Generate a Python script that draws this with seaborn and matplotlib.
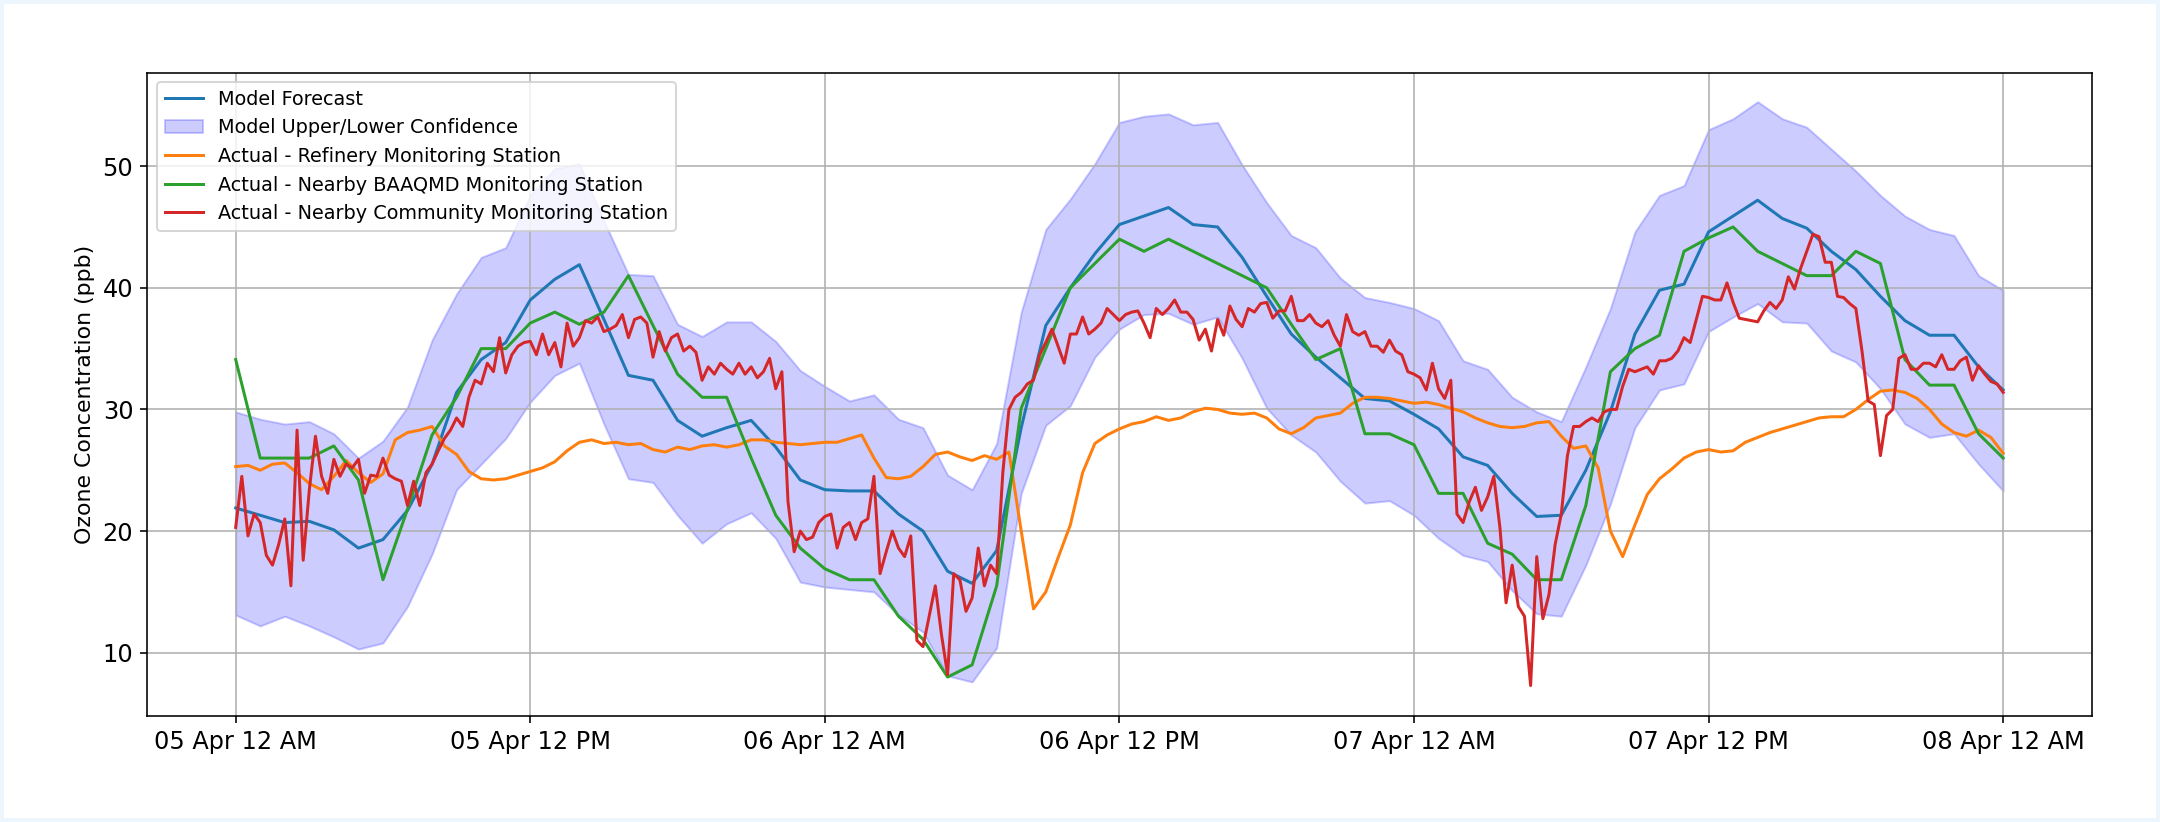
import numpy as np
import pandas as pd
import matplotlib
matplotlib.use("Agg")
import matplotlib.pyplot as plt
import matplotlib.dates as mdates
from matplotlib.patches import Rectangle
import seaborn as sns

start = pd.Timestamp("2023-04-05 00:00")

# hourly model output, 05 Apr 00:00 -> 08 Apr 00:00
model_forecast = [
    21.9, 21.3, 20.7, 20.8, 20.1, 18.6, 19.3, 21.7, 25.5, 31.4, 34.1, 35.5,
    39.0, 40.7, 41.9, 37.4, 32.8, 32.4, 29.1, 27.8, 28.5, 29.1, 26.9, 24.2,
    23.4, 23.3, 23.3, 21.4, 20.0, 16.7, 15.7, 18.4, 28.5, 36.9, 40.0, 42.8,
    45.2, 45.9, 46.6, 45.2, 45.0, 42.5, 39.3, 36.2, 34.3, 32.6, 30.9, 30.7,
    29.6, 28.4, 26.1, 25.4, 23.1, 21.2, 21.3, 25.0, 29.8, 36.2, 39.8, 40.3,
    44.6, 45.9, 47.2, 45.7, 44.9, 43.0, 41.5, 39.3, 37.3, 36.1, 36.1, 33.5,
    31.6,
]
model_upper = [
    29.8, 29.2, 28.8, 29.0, 28.0, 26.0, 27.4, 30.2, 35.7, 39.5, 42.5, 43.3,
    47.6, 49.8, 50.2, 45.5, 41.1, 41.0, 37.0, 36.0, 37.2, 37.2, 35.6, 33.2,
    31.9, 30.7, 31.2, 29.2, 28.5, 24.6, 23.4, 27.2, 38.0, 44.8, 47.3, 50.2,
    53.6, 54.1, 54.3, 53.4, 53.6, 50.1, 47.0, 44.3, 43.3, 40.8, 39.2, 38.8,
    38.3, 37.3, 34.0, 33.3, 31.0, 29.8, 29.0, 33.5, 38.3, 44.6, 47.6, 48.4,
    53.0, 53.9, 55.3, 53.9, 53.2, 51.4, 49.6, 47.6, 45.9, 44.8, 44.3, 41.0,
    39.8,
]
model_lower = [
    13.1, 12.2, 13.0, 12.2, 11.3, 10.3, 10.8, 13.8, 18.1, 23.4, 25.5, 27.6,
    30.6, 32.8, 33.8, 28.8, 24.3, 24.0, 21.3, 19.0, 20.6, 21.5, 19.4, 15.8,
    15.4, 15.2, 15.0, 13.1, 11.7, 8.1, 7.6, 10.4, 23.1, 28.7, 30.3, 34.3,
    36.6, 37.8, 37.9, 37.0, 37.6, 34.2, 30.1, 27.9, 26.5, 24.1, 22.3, 22.5,
    21.3, 19.4, 18.0, 17.5, 15.1, 13.2, 13.0, 17.2, 22.2, 28.5, 31.6, 32.1,
    36.4, 37.6, 38.7, 37.2, 37.1, 34.8, 33.9, 31.7, 28.8, 27.7, 28.0, 25.5,
    23.3,
]

# hourly BAAQMD station
baaqmd = [
    34.1, 26.0, 26.0, 26.0, 27.0, 24.2, 16.0, 21.8, 27.9, 31.0, 35.0, 35.0,
    37.1, 38.0, 37.0, 38.0, 41.0, 36.9, 32.9, 31.0, 31.0, 26.0, 21.3, 18.6,
    16.9, 16.0, 16.0, 13.0, 11.1, 8.0, 9.0, 15.5, 30.1, 35.0, 40.0, 42.0,
    44.0, 43.0, 44.0, 43.0, 42.0, 41.0, 40.0, 37.0, 34.1, 35.0, 28.0, 28.0,
    27.1, 23.1, 23.1, 19.0, 18.1, 16.0, 16.0, 22.1, 33.1, 35.0, 36.1, 43.0,
    44.1, 45.0, 43.0, 42.0, 41.0, 41.0, 43.0, 42.0, 34.1, 32.0, 32.0, 28.0,
    26.0,
]

# refinery station, every 30 min
refinery = [
    25.3, 25.4, 25.0, 25.5, 25.6, 24.8, 23.9, 23.4, 24.5, 25.8, 24.8, 24.0,
    24.7, 27.5, 28.1, 28.3, 28.6, 27.0, 26.3, 24.9, 24.3, 24.2, 24.3, 24.6,
    24.9, 25.2, 25.7, 26.6, 27.3, 27.5, 27.2, 27.3, 27.1, 27.2, 26.7, 26.5,
    26.9, 26.7, 27.0, 27.1, 26.9, 27.1, 27.5, 27.5, 27.3, 27.2, 27.1, 27.2,
    27.3, 27.3, 27.6, 27.9, 26.0, 24.4, 24.3, 24.5, 25.3, 26.3, 26.5, 26.1,
    25.8, 26.2, 25.9, 26.5, 20.0, 13.6, 15.0, 17.8, 20.5, 24.8, 27.2, 27.9,
    28.4, 28.8, 29.0, 29.4, 29.1, 29.3, 29.8, 30.1, 30.0, 29.7, 29.6, 29.7,
    29.3, 28.4, 28.0, 28.5, 29.3, 29.5, 29.7, 30.5, 31.0, 31.0, 30.9, 30.7,
    30.5, 30.6, 30.4, 30.1, 29.8, 29.3, 28.9, 28.6, 28.5, 28.6, 28.9, 29.0,
    27.8, 26.8, 27.0, 25.2, 20.0, 17.9, 20.5, 23.0, 24.3, 25.1, 26.0, 26.5,
    26.7, 26.5, 26.6, 27.3, 27.7, 28.1, 28.4, 28.7, 29.0, 29.3, 29.4, 29.4,
    30.0, 30.8, 31.5, 31.6, 31.4, 30.9, 30.0, 28.8, 28.1, 27.8, 28.3, 27.7,
    26.4,
]

# community station, every 15 min
community = [
    20.3, 24.5, 19.6, 21.4, 20.7, 18.0, 17.2, 18.9, 21.0, 15.5, 28.3, 17.6,
    23.4, 27.8, 24.5, 23.1, 25.9, 24.5, 25.5, 25.2, 25.9, 23.1, 24.6, 24.5,
    26.0, 24.6, 24.3, 24.1, 22.1, 24.1, 22.1, 24.8, 25.5, 26.6, 27.6, 28.3,
    29.3, 28.6, 31.0, 32.4, 32.1, 33.8, 33.1, 35.9, 33.0, 34.5, 35.2, 35.5,
    35.6,
    34.5, 36.2, 34.5, 35.5, 33.5, 37.1, 35.2, 35.9, 37.3, 37.1, 37.6, 36.4,
    36.6, 36.9, 37.8, 35.9, 37.4, 37.6, 37.1, 34.3, 36.4, 34.8, 35.9, 36.2,
    34.8, 35.2, 34.7, 32.4, 33.5, 32.9, 33.8, 33.3, 32.9, 33.8, 32.9, 33.5,
    32.6, 33.1, 34.2, 31.7, 33.1, 22.4, 18.3, 20.0, 19.3, 19.5, 20.7, 21.2,
    21.4, 18.6, 20.3, 20.7, 19.3, 20.7, 21.0, 24.5, 16.5, 18.3, 20.0, 18.6,
    17.9, 19.6, 11.0, 10.5, 13.0, 15.5, 11.5, 8.2, 16.5, 16.0, 13.4, 14.5,
    18.6, 15.5, 17.2, 16.5, 24.8, 30.0, 31.0, 31.4, 32.1, 32.4, 34.5, 35.5,
    36.6, 35.2, 33.8, 36.2, 36.2, 37.6, 36.2, 36.6, 37.1, 38.3, 37.8, 37.3,
    37.8, 38.0, 38.1, 37.1, 35.9, 38.3, 37.8, 38.3, 39.0, 38.0, 38.0, 37.4,
    35.7, 36.6, 34.8, 37.4, 36.1, 38.5, 37.4, 36.8, 38.3, 38.0, 38.7, 38.8,
    37.5, 38.1, 38.1, 39.3, 37.3, 37.3, 37.8, 37.1, 36.8, 37.3, 36.1, 35.2,
    37.8, 36.4, 36.1, 36.4, 35.2, 35.2, 34.7, 35.7, 34.8, 34.5, 33.1, 32.9,
    32.6, 31.6, 33.8, 31.7, 30.9, 32.4, 21.4, 20.7, 22.4, 23.6, 21.7, 22.8,
    24.5, 20.3, 14.1, 17.2, 13.8, 13.0, 7.3, 17.9, 12.8, 14.8, 18.9, 21.4,
    26.2, 28.6, 28.6, 29.0, 29.3, 29.0, 29.8, 30.0, 30.0, 31.9, 33.3, 33.1,
    33.3, 33.5, 32.9, 34.0, 34.0, 34.2, 34.8, 35.9, 35.5, 37.4, 39.3, 39.2,
    39.0, 39.0, 40.4, 38.8, 37.5, 37.4, 37.3, 37.2, 38.1, 38.8, 38.3, 39.0,
    40.9, 39.9, 41.6, 43.0, 44.4, 44.2, 42.1, 42.1, 39.3, 39.2, 38.7, 38.3,
    34.8, 30.7, 30.4, 26.2, 29.5, 30.0, 34.2, 34.5, 33.3, 33.3, 33.8, 33.8,
    33.5, 34.5, 33.3, 33.3, 34.0, 34.3, 32.4, 33.6, 32.9, 32.3, 32.1, 31.4,
]

hourly = pd.date_range(start, periods=len(model_forecast), freq="h")
half_hourly = pd.date_range(start, periods=len(refinery), freq="30min")
quarter_hourly = pd.date_range(start, periods=len(community), freq="15min")

fig = plt.figure(figsize=(15, 822 / 144), dpi=144)
ax = fig.add_axes([0.0682, 0.129, 0.9001, 0.7828])

sns.lineplot(x=hourly, y=model_forecast, color="tab:blue", label="Model Forecast", ax=ax)
ax.fill_between(hourly, model_lower, model_upper, color="blue", alpha=0.2,
                label="Model Upper/Lower Confidence")
sns.lineplot(x=half_hourly, y=refinery, color="tab:orange",
             label="Actual - Refinery Monitoring Station", ax=ax)
sns.lineplot(x=hourly, y=baaqmd, color="tab:green",
             label="Actual - Nearby BAAQMD Monitoring Station", ax=ax)
sns.lineplot(x=quarter_hourly, y=community, color="tab:red",
             label="Actual - Nearby Community Monitoring Station", ax=ax)

ax.set_xlim(start - pd.Timedelta(hours=3.6), start + pd.Timedelta(hours=75.6))
ax.set_ylim(4.8, 57.7)
ax.xaxis.set_major_locator(mdates.HourLocator(byhour=[0, 12]))
ax.xaxis.set_major_formatter(mdates.DateFormatter("%d %b %I %p"))
ax.tick_params(axis="both", labelsize=12)
ax.set_xlabel("")
ax.set_ylabel("Ozone Concentration (ppb)", fontsize=11)
ax.grid(True)
ax.legend(loc="upper left", fontsize=9.6)

# pale frame round the picture
fig.patches.append(Rectangle((0, 0), 1, 1, transform=fig.transFigure, fill=False,
                             edgecolor="#eef6fd", linewidth=4))

fig.savefig("out.png", dpi=144)
